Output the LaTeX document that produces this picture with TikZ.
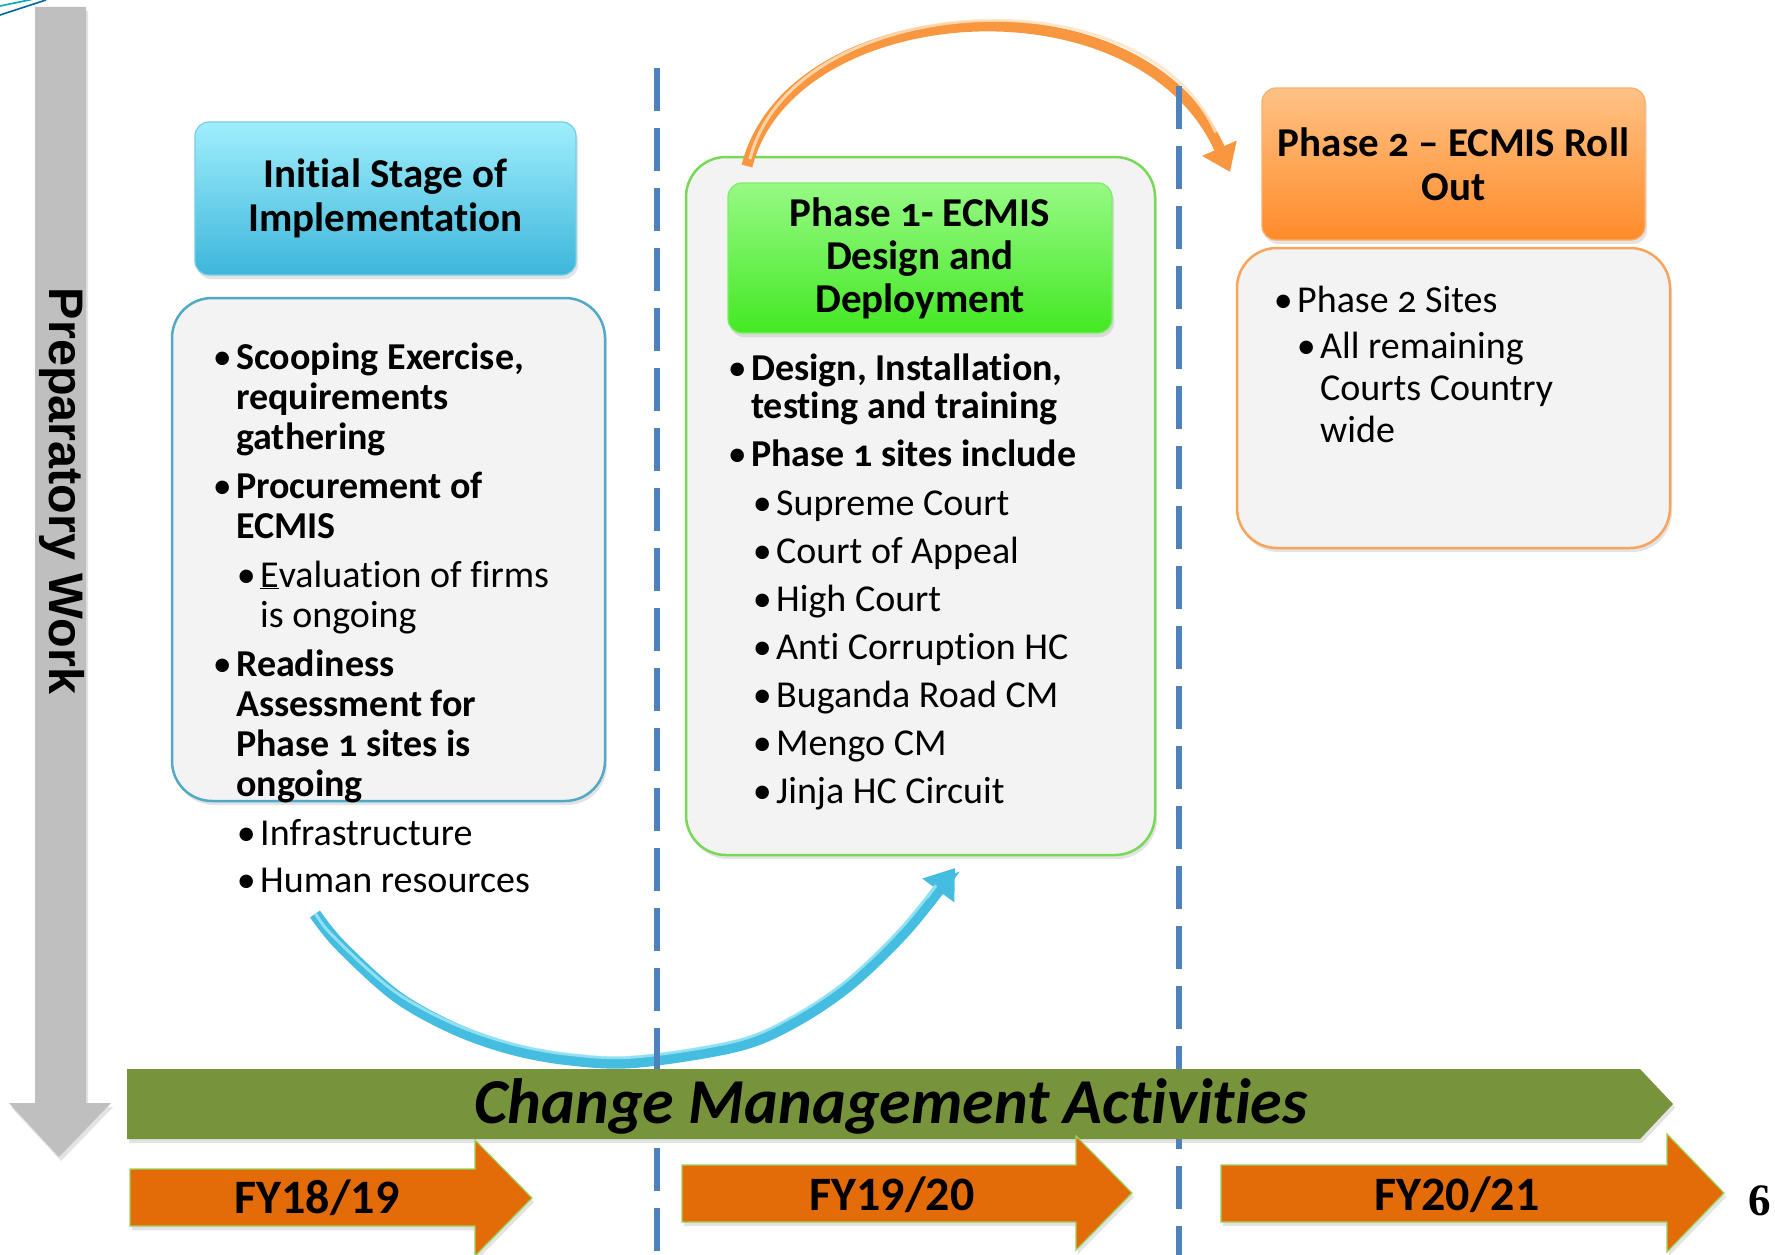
\documentclass[tikz,border=0pt]{standalone}
\usepackage{fontspec}
\setmainfont{Carlito}[Numbers=OldStyle, Ligatures=NoCommon]
\newfontfamily\fyfont{Carlito}
\newfontfamily\prepfont{Liberation Sans}
\newfontfamily\pgfont{Liberation Serif}
\usetikzlibrary{arrows.meta,shadows}
\definecolor{grayarr}{HTML}{BFBFBF}
\definecolor{cmgreen}{HTML}{77933C}
\definecolor{fyorange}{HTML}{E36C09}
\definecolor{fyborder}{HTML}{9BD35A}
\definecolor{dashblue}{HTML}{4F81BD}
\definecolor{boxfill}{HTML}{F3F3F3}
\definecolor{initborder}{HTML}{52A9C6}
\definecolor{ponborder}{HTML}{77D955}
\definecolor{ptwborder}{HTML}{F9A35B}
\definecolor{inittop}{HTML}{A0EEFC}
\definecolor{initbot}{HTML}{3DB6DA}
\definecolor{pontop}{HTML}{97F985}
\definecolor{ponbot}{HTML}{44E824}
\definecolor{ptwtop}{HTML}{FFC285}
\definecolor{ptwbot}{HTML}{FF8B2A}
\definecolor{bluearc}{HTML}{45BDE0}
\definecolor{bluelight}{HTML}{B0F0FB}
\definecolor{orangearc}{HTML}{F8973F}
\definecolor{orangelight}{HTML}{FFE2C2}
\newcommand\bul{\leavevmode\llap{•\hspace{4.5pt}}}
\newcommand\brk{\kern0pt }
\tikzset{
  softshadow/.style={drop shadow={opacity=0.22, shadow xshift=2pt, shadow yshift=-4pt}},
  cbox/.style={draw, line width=2.5pt, fill=boxfill, rounded corners=40pt, inner sep=0pt, softshadow},
  hdr/.style={draw, line width=1.2pt, rounded corners=14pt, inner sep=0pt, align=center,
    font=\fontsize{41}{44}\selectfont\bfseries, text=black, softshadow},
  listtext/.style={anchor=base west, inner sep=0pt},
  dashln/.style={draw=dashblue, line width=5.5pt, dash pattern=on 43pt off 17pt},
  fyarrow/.style={fill=fyorange, draw=fyborder, line width=1.2pt, softshadow},
  fytext/.style={anchor=base, inner sep=0pt, font=\fyfont\fontsize{48}{48}\selectfont\bfseries},
}
\begin{document}
\begin{tikzpicture}[x=1pt, y=-1pt]
\useasboundingbox (0,0) rectangle (1775,1255);
\fill[white] (0,0) rectangle (1775,1255);

% corner decoration
\draw[color=cyan!60!green, line width=1.6pt] (0,6) -- (34,-1);
\draw[color=teal!80!blue, line width=1.6pt] (0,15) -- (46,0);

% gray vertical arrow
\path[fill=grayarr, softshadow] (35,7) -- (86,7) -- (86,1103) -- (111,1103) -- (59,1157) -- (9,1103) -- (35,1103) -- cycle;
\node[rotate=-90, anchor=base, inner sep=0pt, font=\prepfont\fontsize{48.5}{48}\selectfont\bfseries] (prep) at (49,491) {Preparatory Work};

% content boxes
\node[cbox, draw=initborder, minimum width=433pt, minimum height=503pt] (initbox) at (388.5,549.5) {};
\node[cbox, draw=ponborder, minimum width=469pt, minimum height=698pt] (ponbox) at (920.5,506) {};
\node[cbox, draw=ptwborder, minimum width=433pt, minimum height=300pt] (ptwbox) at (1453.5,398) {};

% headers
\node[hdr, draw=initbot!70!white, top color=inittop, bottom color=initbot, minimum width=381pt, minimum height=153pt] (inithdr) at (385.5,198.5) {Init\brk ial Stage of\\Implementat\brk ion};
\node[hdr, draw=ponbot!70!white, top color=pontop, bottom color=ponbot, minimum width=384pt, minimum height=150pt] (ponhdr) at (920,258) {Phase 1- ECMIS\\[-1pt]Design and\\[-1pt]Deployment};
\node[hdr, draw=ptwbot!70!white, top color=ptwtop, bottom color=ptwbot, minimum width=383pt, minimum height=152pt] (ptwhdr) at (1453.5,164) {Phase 2 – ECMIS Roll\\Out};

% lists
\node[listtext] (initlist) at (236,369) {\parbox[t]{420pt}{\fontsize{38}{40}\selectfont
\bul\textbf{Scooping Exercise,}\\
\textbf{requirements}\\
\textbf{gathering}\\[9pt]
\bul\textbf{Procurement of}\\
\textbf{ECMIS}\\[9pt]
\hspace*{24pt}\bul\underline{E}valuat\brk ion of f\brk irms\\
\hspace*{24pt}is ongoing\\[9pt]
\bul\textbf{Readiness}\\
\textbf{Assessment for}\\
\textbf{Phase 1 sites is}\\
\textbf{ongoing}\\[9pt]
\hspace*{24pt}\bul Infrastructure\\[7pt]
\hspace*{24pt}\bul Human resources}};

\node[listtext] (ponlist) at (751,380) {\parbox[t]{400pt}{\fontsize{38}{38.5}\selectfont
\bul\textbf{Design, Installat\brk ion,}\\
\textbf{test\brk ing and training}\\[9pt]
\bul\textbf{Phase 1 sites include}\\[11pt]
\hspace*{25pt}\bul Supreme Court\\[9.5pt]
\hspace*{25pt}\bul Court of Appeal\\[9.5pt]
\hspace*{25pt}\bul High Court\\[9.5pt]
\hspace*{25pt}\bul Ant\brk i Corrupt\brk ion HC\\[9.5pt]
\hspace*{25pt}\bul Buganda Road CM\\[9.5pt]
\hspace*{25pt}\bul Mengo CM\\[9.5pt]
\hspace*{25pt}\bul Jinja HC Circuit}};

\node[listtext] (ptwlist) at (1297,312) {\parbox[t]{400pt}{\fontsize{38}{42}\selectfont
\bul Phase 2 Sites\\[4pt]
\hspace*{23pt}\bul All remaining\\
\hspace*{23pt}Courts Country\\
\hspace*{23pt}wide}};

% blue curved arrow
\coordinate (bs) at (315,914);
\coordinate (be) at (955,868);
\draw[bluearc, line width=12pt, -{Triangle[length=28pt, width=38pt]}]
  plot[smooth, tension=0.55] coordinates {(bs) (340,945) (396,996) (453,1028) (509,1048) (566,1059) (634,1062) (736,1046) (792,1023) (849,985) (906,930) (be)};
\draw[bluelight, line width=3pt, opacity=0.7, shorten >=42pt, shorten <=4pt]
  plot[smooth, tension=0.55] coordinates {(313,910) (337,940) (394,991) (452,1023) (509,1043) (566,1054) (634,1057) (736,1041) (790,1018) (846,981) (903,926) (952,864)};

% orange curved arrow
\coordinate (os) at (747,166);
\coordinate (oe) at (1230,172);
\draw[orangearc, line width=11pt, -{Triangle[length=26pt, width=36pt]}]
  (os) .. controls (790,-5) and (1140,-30) .. (oe);
\draw[orangelight, line width=3pt, opacity=0.8, shorten >=40pt, shorten <=4pt]
  (749,163) .. controls (792,-8) and (1142,-33) .. (1232,169);

% dashed separators
\coordinate (dat) at (657,68);
\coordinate (dab) at (657,1260);
\coordinate (dbt) at (1179,86);
\coordinate (dbb) at (1179,1260);
\draw[dashln] (dat) -- (dab);
\draw[dashln] (dbt) -- (dbb);

% change management arrow
\path[fill=cmgreen, softshadow] (127,1069) -- (1640,1069) -- (1673,1104) -- (1640,1139) -- (127,1139) -- cycle;
\node[anchor=base, inner sep=0pt, font=\fontsize{64}{64}\selectfont\bfseries\itshape] (cmtext) at (891,1123) {Change Management Act\brk ivit\brk ies};

% FY arrows
\path[fyarrow] (130,1169) -- (475,1169) -- (475,1140) -- (532,1198) -- (475,1256) -- (475,1226) -- (130,1226) -- cycle;
\path[fyarrow] (682,1165) -- (1076,1165) -- (1076,1136) -- (1132,1193) -- (1076,1250) -- (1076,1222) -- (682,1222) -- cycle;
\path[fyarrow] (1221,1165) -- (1667,1165) -- (1667,1134) -- (1724,1193) -- (1667,1252) -- (1667,1222) -- (1221,1222) -- cycle;
\node[fytext] (fya) at (317,1213) {FY18/19};
\node[fytext] (fyb) at (892,1210) {FY19/20};
\node[fytext] (fyc) at (1457,1210) {FY20/21};

% page number
\node[anchor=base west, inner sep=0pt, font=\pgfont\fontsize{45}{45}\selectfont\bfseries] (pgno) at (1748,1215) {6};
\end{tikzpicture}
\end{document}
